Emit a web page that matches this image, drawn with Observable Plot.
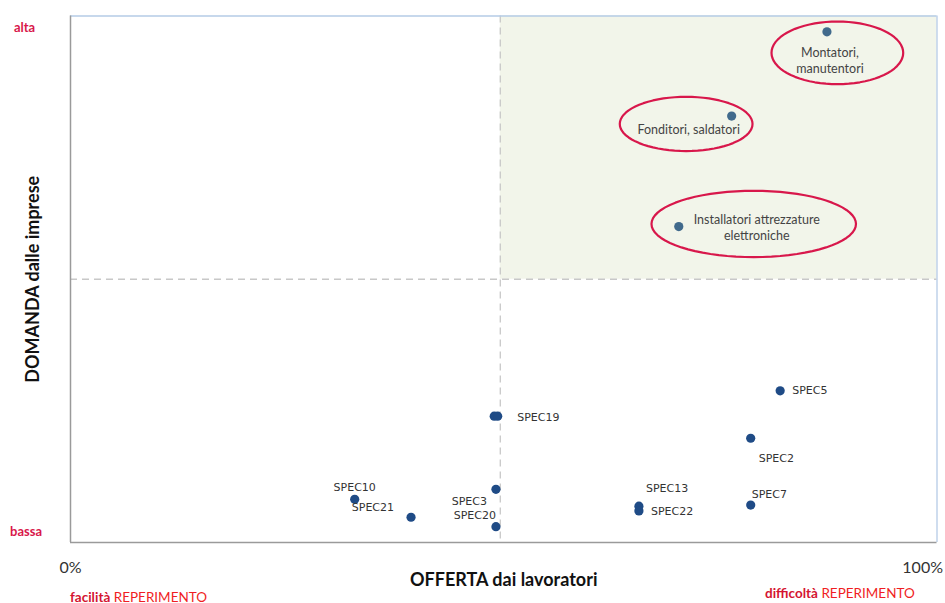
<!DOCTYPE html>
<html>
<head>
<meta charset="utf-8">
<script src="https://cdn.jsdelivr.net/npm/d3@7"></script>
<script src="https://cdn.jsdelivr.net/npm/@observablehq/plot@0.6"></script>
<style>
  html, body { margin: 0; padding: 0; background: #fff; }
  #chart svg { display: block; }
</style>
</head>
<body>
<div id="chart"></div>
<script>
// ---- data ----
const professions = ["Montatori, manutentori", "Fonditori, saldatori", "Installatori attrezzature elettroniche",
  "SPEC5", "SPEC19", "SPEC19b", "SPEC2", "SPEC10", "SPEC3", "SPEC21", "SPEC20", "SPEC13", "SPEC22", "SPEC7"];
const offerta = [87.3, 76.3, 70.2, 81.9, 48.9, 49.3, 78.5, 32.8, 49.1, 39.3, 49.1, 65.6, 65.6, 78.5];
const domanda = [97.0, 81.0, 60.0, 28.8, 24.0, 24.0, 19.8, 8.2, 10.1, 4.8, 3.0, 6.9, 6.0, 7.1];
const highlighted = ["Montatori, manutentori", "Fonditori, saldatori", "Installatori attrezzature elettroniche"];
const labels = ["Montatori,\nmanutentori", "Fonditori, saldatori", "Installatori attrezzature\nelettroniche",
  "SPEC5", "SPEC19", "", "SPEC2", "SPEC10", "SPEC3", "SPEC21", "SPEC20", "SPEC13", "SPEC22", "SPEC7"];
// quadrant split values
const splitOfferta = 49.6;
const splitDomanda = 50;
// ellipses around highlighted groups (center and radii in data units)
const ellipseNames = ["Montatori", "Fonditori", "Installatori"];
const ellipseCx = [88.5, 71.05, 78.85];
const ellipseCy = [93.0, 79.5, 60.5];
const ellipseRx = [7.6, 7.66, 11.8];
const ellipseRy = [5.95, 5.15, 6.3];

// ---- layout (label placement in px) ----
const placement = {
  "Montatori, manutentori": {dx: 3, dy: 28, anchor: "middle"},
  "Fonditori, saldatori": {dx: -43, dy: 13, anchor: "middle"},
  "Installatori attrezzature elettroniche": {dx: 78, dy: 0, anchor: "middle"},
  "SPEC5": {dx: 12, dy: 0, anchor: "start"},
  "SPEC19": {dx: 23, dy: 1, anchor: "start"},
  "SPEC19b": {dx: 0, dy: 0, anchor: "start"},
  "SPEC2": {dx: 8, dy: 20, anchor: "start"},
  "SPEC10": {dx: 0, dy: -12, anchor: "middle"},
  "SPEC3": {dx: -9, dy: 12, anchor: "end"},
  "SPEC21": {dx: -17, dy: -10, anchor: "end"},
  "SPEC20": {dx: 0, dy: -11, anchor: "end"},
  "SPEC13": {dx: 7, dy: -18, anchor: "start"},
  "SPEC22": {dx: 12, dy: 1, anchor: "start"},
  "SPEC7": {dx: 1, dy: -11, anchor: "start"}
};

const points = professions.map((p, i) => ({
  name: p, x: offerta[i], y: domanda[i], label: labels[i], top: highlighted.includes(p)
}));
const ellipsePts = [];
ellipseNames.forEach((n, i) => {
  for (let k = 0; k <= 72; k++) {
    const t = (k / 72) * 2 * Math.PI;
    ellipsePts.push({g: n, x: ellipseCx[i] + ellipseRx[i] * Math.cos(t), y: ellipseCy[i] + ellipseRy[i] * Math.sin(t)});
  }
});

const serif = "Lato, 'Source Sans Pro', sans-serif";
const crimson = "#d8174b";

const labelMarks = points.filter(d => d.label).map(d => {
  const pl = placement[d.name];
  return Plot.text([d], {
    x: "x", y: "y", text: "label", dx: pl.dx, dy: pl.dy, textAnchor: pl.anchor,
    fontFamily: d.top ? serif : "DejaVu Sans, sans-serif",
    fontSize: d.top ? 12.5 : 11,
    lineHeight: d.top ? 1.3 : 1,
    fill: d.top ? "#444" : "#333"
  });
});

const chart = Plot.plot({
  width: 945,
  height: 603,
  marginLeft: 70,
  marginRight: 8.5,
  marginTop: 15.5,
  marginBottom: 61,
  x: {domain: [0, 100], axis: null},
  y: {domain: [0, 100], axis: null},
  style: {fontFamily: serif, overflow: "visible"},
  marks: [
    Plot.rect([{x1: splitOfferta, x2: 100, y1: splitDomanda, y2: 100}], {x1: "x1", x2: "x2", y1: "y1", y2: "y2", fill: "#f2f5ea"}),
    Plot.ruleX([splitOfferta], {stroke: "#c8c8c8", strokeWidth: 1.3, strokeDasharray: "7,5"}),
    Plot.ruleY([splitDomanda], {stroke: "#c8c8c8", strokeWidth: 1.3, strokeDasharray: "7,5"}),
    Plot.ruleY([100], {stroke: "#b5cbe6", strokeWidth: 1.3}),
    Plot.ruleX([100], {stroke: "#b5cbe6", strokeWidth: 1.3}),
    Plot.ruleX([0], {stroke: "#9a9a9a", strokeWidth: 1.5}),
    Plot.ruleY([0], {stroke: "#9a9a9a", strokeWidth: 1.5}),
    Plot.dot(points, {x: "x", y: "y", r: 4.6, fill: d => d.top ? "#416a8c" : "#1f4b86", stroke: "none"}),
    ...labelMarks,
    Plot.line(ellipsePts, {x: "x", y: "y", z: "g", stroke: crimson, strokeWidth: 2.2, curve: "linear"}),
    // axis texts
    Plot.text(["alta"], {frameAnchor: "top-left", lineAnchor: "middle", dx: -46, dy: 11.5, text: d => d, textAnchor: "middle", fill: crimson, fontWeight: "bold", fontSize: 13}),
    Plot.text(["bassa"], {frameAnchor: "bottom-left", lineAnchor: "middle", dx: -44.5, dy: -11, text: d => d, textAnchor: "middle", fill: crimson, fontWeight: "bold", fontSize: 13}),
    Plot.text(["DOMANDA dalle imprese"], {frameAnchor: "left", lineAnchor: "middle", dx: -37, dy: 0, rotate: -90, text: d => d, textAnchor: "middle", fill: "#111", fontWeight: "bold", fontSize: 18}),
    Plot.text(["0%"], {frameAnchor: "bottom-left", lineAnchor: "middle", dx: 0, dy: 25, text: d => d, textAnchor: "middle", fill: "#333", fontSize: 16}),
    Plot.text(["100%"], {frameAnchor: "bottom-right", lineAnchor: "middle", dx: 6, dy: 25, text: d => d, textAnchor: "end", fill: "#333", fontSize: 16}),
    Plot.text(["OFFERTA dai lavoratori"], {frameAnchor: "bottom", lineAnchor: "middle", dx: 0, dy: 38, text: d => d, textAnchor: "middle", fill: "#111", fontWeight: "bold", fontSize: 18})
  ]
});

// two-colour captions with tspans
const svg = d3.select(chart);
function caption(x, y, bold) {
  const t = svg.append("text").attr("x", x).attr("y", y).attr("font-family", serif).attr("font-size", 13.5)
    .attr("text-anchor", "start").attr("dy", "0.35em");
  t.append("tspan").attr("fill", "#d41431").attr("font-weight", "bold").text(bold);
  t.append("tspan").attr("fill", "#f01e23").text(" REPERIMENTO");
}
caption(70, 597, "facilità");
caption(765, 593.5, "difficoltà");

document.getElementById("chart").append(chart);
</script>
</body>
</html>
